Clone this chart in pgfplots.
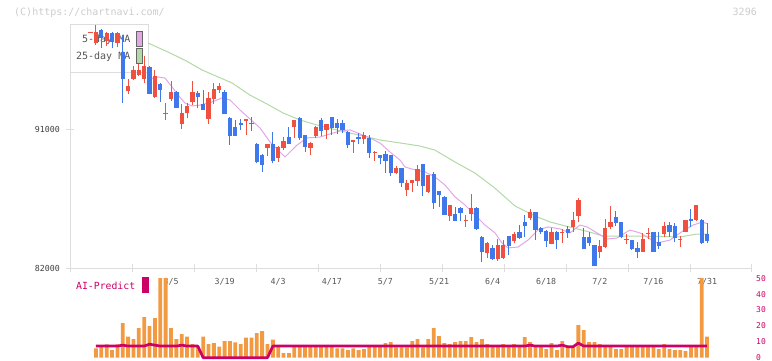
\documentclass[border=0pt]{standalone}
\usepackage{pgfplots}
\pgfplotsset{compat=1.18}
\usepackage{pgfplotstable}
\usepackage{fontspec}
\setmainfont{DejaVu Sans Mono}
\definecolor{upred}{HTML}{EF5040}
\definecolor{dnblue}{HTML}{3F78EA}
\definecolor{mafive}{HTML}{E2A8E6}
\definecolor{matwf}{HTML}{B2D9A6}
\definecolor{barorange}{HTML}{F29A42}
\definecolor{aimag}{HTML}{CC0066}
\definecolor{axgray}{HTML}{DDDDDD}
\definecolor{wm}{HTML}{CCCCCC}
\definecolor{lbl}{HTML}{555555}

% up (red) candles: x O H L C
\pgfplotstableread{
x O H L C
0 97250 97310 97250 97310
1 96550 97730 96440 97260
3 96720 97250 96380 97200
5 96590 97250 96290 97200
7 93460 94240 93270 93790
8 94260 95080 94200 94820
9 94500 95210 94430 94820
10 94260 95730 93960 95080
12 93090 94820 92990 94430
14 91970 92680 91580 92030
15 92920 94110 92810 93420
17 91340 92620 90980 92020
18 92020 92660 91690 92490
19 92770 94110 92550 93420
22 91670 93420 91300 93030
23 92960 93960 92620 93590
24 93530 94000 93350 93790
29 91520 91660 90610 91620
33 89790 90050 89250 90030
35 89100 89920 88880 89850
36 89750 90500 89640 90220
38 91130 91600 90440 91580
41 89790 90130 89320 90110
42 90570 91170 90400 91150
44 90940 91340 90350 91320
49 90180 90300 89470 90290
51 90370 90790 90050 90610
53 89480 89580 88950 89540
57 88130 88600 88070 88460
59 87050 87700 86680 87480
60 87480 87720 86900 87700
61 87650 88670 87330 88410
63 86940 88040 86840 88020
67 85390 86100 85060 86080
70 85080 85430 84670 85140
71 85480 86790 85060 85900
74 82950 83660 82630 83640
76 82560 83860 82470 83490
77 82630 83810 82560 83490
79 83770 84350 83600 84200
82 85260 85820 85110 85630
86 83550 84570 83530 84350
88 84280 84530 83640 84340
90 84650 85610 84310 85110
91 85390 86550 85000 86400
95 83060 83810 82670 83420
96 83380 85170 83310 84570
97 84670 86030 84510 85000
100 83830 84200 83550 83890
103 83060 84250 83040 83860
104 84180 84570 83860 84240
107 84180 84960 84030 84720
110 83850 84090 83380 83910
111 84350 85130 84310 85110
113 85110 86100 85060 86080
}\up

% down (blue) candles: x O H L C
\pgfplotstableread{
x O H L C
2 97410 97450 96250 96870
4 97200 97250 96250 96650
6 95970 97090 92660 94220
11 95030 95100 93250 93270
13 93910 93980 92770 93530
16 93420 93450 92350 92380
20 93350 93460 92380 93090
21 92620 93530 92200 92230
25 93420 93530 91950 91970
26 91730 91750 89960 90550
27 91150 91580 90530 90550
28 91410 91630 90940 91280
30 91410 91760 90890 91320
31 90030 90110 88780 88880
32 89320 89380 88240 88670
34 90030 90830 88780 88950
37 90460 91130 90030 90050
39 91730 91800 90290 90400
40 90610 90630 89530 89850
43 91580 91690 90570 90870
45 91780 91800 90610 91050
46 91410 91650 90680 91050
47 91410 91580 90760 90920
48 90830 90850 89790 89960
50 90500 90720 90050 90370
52 90440 90610 89140 89470
54 89320 89340 88710 89100
55 89380 89580 88170 88950
56 89320 89340 87980 88130
58 88460 88480 87260 87480
62 88730 88750 86680 87330
64 88090 88200 85820 86230
65 86990 87010 85930 86730
66 86620 86640 85400 85430
68 85500 85970 85040 85060
69 85900 85920 85060 85580
72 85900 85920 84460 84530
73 84030 84050 82370 83060
75 83310 83490 82540 82560
78 84070 84090 82840 83440
80 84330 84780 83880 83960
81 84980 85430 84030 84720
83 85630 85650 83810 84460
84 84610 84630 84180 84310
85 84420 84440 83380 83770
87 84350 84370 83230 83810
89 84530 84720 83960 84290
92 83990 84610 83210 83230
93 83990 84310 83440 83640
94 83490 83510 82100 82130
98 85280 85710 84720 84930
99 84960 84980 83920 83990
101 83810 83830 83170 83210
102 83310 83700 82670 83060
105 84310 84330 83040 83060
106 83660 84310 83210 83440
108 84780 84960 84030 84310
109 84720 84890 83660 83960
112 85170 85820 84670 85060
114 85110 85170 83580 83600
115 84200 84890 83600 83770
}\dn

% AI-Predict bars
\pgfplotstableread{
x v
1 5.9
2 7.3
3 8.4
4 4.8
5 8.4
6 21.8
7 13.2
8 11.7
9 18.6
10 25.5
11 19.9
12 24.9
13 50
14 50
15 18.6
16 11.7
17 14.9
18 13.2
19 8.6
20 7.3
21 13.2
22 8.6
23 9.2
24 6.9
25 10.5
26 10.5
27 9.6
28 8.6
29 12.6
30 12.6
31 15.5
32 16.7
33 8.6
34 11.3
35 7.3
36 2.9
37 2.9
38 7.3
39 7.3
40 7.3
41 7.3
42 7.3
43 7.3
44 7.3
45 7.3
46 5.8
47 5.8
48 4.8
49 5.8
50 4.8
51 5.4
52 7.3
53 7.3
54 7.3
55 9.2
56 9.8
57 6.5
58 6.5
59 6.5
60 10.5
61 11.7
62 6.5
63 11.7
64 18.6
65 13.6
66 9.2
67 8.6
68 9.8
69 10.5
70 10.5
71 13.0
72 9.8
73 11.7
74 8.6
75 7.3
76 7.3
77 8.6
78 7.3
79 8.6
80 7.3
81 13.0
82 9.8
83 7.3
84 7.3
85 5.4
86 9.2
87 4.8
88 10.5
89 7.3
90 7.3
91 20.5
92 17.4
93 9.8
94 9.8
95 8.6
96 7.3
97 7.3
98 5.4
99 5.4
100 7.3
101 7.3
102 7.3
103 7.3
104 7.3
105 7.3
106 5.4
107 8.6
108 5.4
109 4.8
110 4.8
111 4.2
112 7.3
113 7.3
114 50
115 13.2
}\aibars

\begin{document}
\begin{tikzpicture}
\path[use as bounding box] (0,0) rectangle (772bp,-361bp);
% watermark and code
\node[anchor=west, inner sep=0pt, text=wm, font=\fontsize{10bp}{12bp}\selectfont] at (14bp,-12.5bp) {(C)https://chartnavi.com/};
\node[anchor=east, inner sep=0pt, text=wm, font=\fontsize{10bp}{12bp}\selectfont] at (757bp,-12bp) {3296};
% legend of the price panel (drawn first, candles go over it)
\draw[axgray, fill=white, line width=1bp] (70bp,-24bp) rectangle (148bp,-72bp);
\node[anchor=east, inner sep=0pt, text=lbl, font=\fontsize{10bp}{12bp}\selectfont] at (130.5bp,-39.5bp) {5-day MA};
\node[anchor=east, inner sep=0pt, text=lbl, font=\fontsize{10bp}{12bp}\selectfont] at (130.5bp,-57bp) {25-day MA};
\draw[fill=mafive, draw=gray!80!black, line width=0.8bp] (136.3bp,-31.3bp) rectangle (142.5bp,-46.5bp);
\draw[fill=matwf, draw=gray!80!black, line width=0.8bp] (136.3bp,-48.5bp) rectangle (142.5bp,-63.3bp);

\begin{axis}[
  at={(70bp,-268bp)}, anchor=south west, scale only axis,
  width=682bp, height=244bp,
  xmin=-3.843, xmax=123.39, ymin=82000, ymax=97799,
  axis x line*=bottom, axis y line*=left,
  axis line style={draw=axgray, line width=1bp},
  tick style={draw=axgray, line width=1bp},
  major tick length=8bp, tick align=center,
  scaled x ticks=false, scaled y ticks=false,
  xtick={-3.84,7.73,19.30,30.87,42.44,54.01,65.58,77.15,88.72,100.29,111.86,123.38},
  xticklabels={{},{},{},{},{},{},{},{},{},{},{},{}},
  extra x ticks={15,25,35,45,55,65,75,85,95,105,115},
  extra x tick labels={3/5,3/19,4/3,4/17,5/7,5/21,6/4,6/18,7/2,7/16,7/31},
  extra x tick style={major tick length=0pt},
  xticklabel style={anchor=center, inner sep=0pt, yshift=-14bp, text=lbl, font=\fontsize{8.3bp}{10bp}\selectfont},
  ytick={82000,91000}, yticklabels={82000,91000},
  yticklabel style={anchor=east, inner sep=0pt, xshift=-6bp, text=black!75, font=\fontsize{8.3bp}{10bp}\selectfont},
  clip=false,
]
% 25-day MA
\addplot[color=matwf, line width=1bp] coordinates {
(10.7,96570) (14.4,95990) (17.9,95400) (20.8,94820) (23.8,94370) (26.4,93980)
(29.7,93200) (32.9,92620) (35.9,92040) (39.1,91580) (42.2,91260) (45.2,91000)
(48.4,90740) (54.0,90290) (59.0,90030) (61.4,89900) (64.2,89640) (68.0,88860)
(71.7,88150) (75.4,87180) (79.2,86010) (82.9,85370) (85.7,84980) (89.4,84650)
(93.1,84330) (95.6,84070) (100,84070) (105,84050) (110,84010) (113.1,84200) (115,84200)};
% 5-day MA
\addplot[color=mafive, line width=1bp] coordinates {
(11.08,94240) (12.57,94370) (13.88,94300) (15.19,93720) (16.31,93200) (17.61,92680)
(18.92,92490) (20.41,92550) (22.65,92750) (24.51,93010) (26.01,92880) (27.87,92230)
(29.74,91650) (31.6,91070) (33.47,90160) (35.34,89510) (36.27,89190) (37.2,89510)
(38.51,89960) (40.37,90420) (42.8,90480) (44.66,90680) (46.53,90870) (48.4,90940)
(50.26,90680) (52.13,90420) (54,90090) (55.86,89510) (57.72,88990) (58.66,88540)
(60.52,88350) (62.39,88220) (64.25,87890) (66.12,87370) (67.99,86600) (69.85,86080)
(71.72,85430) (73.58,84780) (75.45,84270) (76.75,83620) (77.87,83300) (79.74,83360)
(81.6,83810) (83.47,84460) (85.34,84660) (87.57,84530) (89.44,84270) (91.31,84780)
(92.61,84660) (94.48,84270) (96.34,83880) (98.21,83940) (100.6,84460) (102.5,84270)
(105.7,83620) (108.1,83810) (110.5,84400) (112.4,84780) (114.1,84980) (115.2,84850)};
% wicks
\addplot[draw=none, mark=none, error bars/.cd, y dir=plus, y explicit, error mark=none,
  error bar style={draw=upred, line width=1bp}] table[x=x, y=L, y error expr=\thisrow{H}-\thisrow{L}] {\up};
\addplot[draw=none, mark=none, error bars/.cd, y dir=plus, y explicit, error mark=none,
  error bar style={draw=dnblue, line width=1bp}] table[x=x, y=L, y error expr=\thisrow{H}-\thisrow{L}] {\dn};
% bodies
\addplot[draw=none, mark=none, error bars/.cd, y dir=plus, y explicit, error mark=none,
  error bar style={draw=upred, line width=4.3bp}] table[x=x, y=O, y error expr=\thisrow{C}-\thisrow{O}] {\up};
\addplot[draw=none, mark=none, error bars/.cd, y dir=plus, y explicit, error mark=none,
  error bar style={draw=dnblue, line width=4.3bp}] table[x=x, y=C, y error expr=\thisrow{O}-\thisrow{C}] {\dn};
\end{axis}

\begin{axis}[
  at={(70bp,-357.7bp)}, anchor=south west, scale only axis,
  width=682bp, height=79.5bp,
  xmin=-3.843, xmax=123.39, ymin=0, ymax=50,
  axis x line=none, axis y line*=right,
  y axis line style={draw=none},
  major tick length=0pt,
  ytick={0,10,20,30,40,50}, yticklabels={0,10,20,30,40,50},
  yticklabel style={anchor=west, inner sep=0pt, xshift=4bp, text=aimag, font=\fontsize{8bp}{10bp}\selectfont},
  clip=false,
]
\addplot[ybar, bar width=3.8bp, bar shift=0pt, fill=barorange, draw=none] table[x=x, y=v] {\aibars};
\addplot[color=aimag, line width=2.7bp, line join=round] coordinates {
(1,7.3) (5,7.3) (6,7.9) (7,7.3) (10,7.3) (11,8.5) (12,7.9) (13,7.3) (16,7.3) (17,7.9)
(18,7.3) (20,7.3) (21,0) (33,0) (34,7.3) (81,7.3) (82,7.9) (83,7.3) (87,7.3) (88,7.9)
(89,6.9) (90,6.9) (91,9.2) (92,7.3) (115,7.3)};
\end{axis}
% AI-Predict legend
\node[anchor=west, inner sep=0pt, text=aimag, font=\fontsize{9.8bp}{12bp}\selectfont] at (76bp,-286bp) {AI-Predict};
\fill[aimag] (142.3bp,-277.3bp) rectangle (149bp,-292.7bp);
\end{tikzpicture}
\end{document}
